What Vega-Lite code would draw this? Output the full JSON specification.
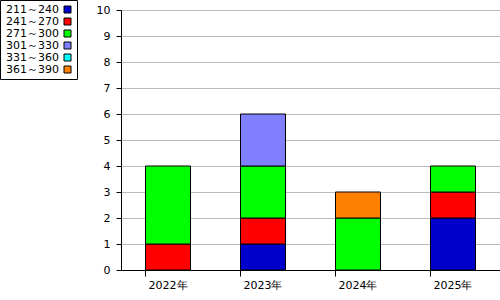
{
  "$schema": "https://vega.github.io/schema/vega-lite/v6.json",
  "width": 379,
  "height": 260,
  "autosize": {"type": "none"},
  "padding": {"left": 121, "top": 10, "right": 0, "bottom": 30},
  "background": "white",
  "config": {
    "font": "DejaVu Sans",
    "view": {"stroke": null},
    "axis": {"labelFont": "DejaVu Sans", "labelFontSize": 11, "labelColor": "#000", "domainColor": "#000", "tickColor": "#000"}
  },
  "data": {
    "values": [
      {"year": "2022年", "range": "241～270", "count": 1},
      {"year": "2022年", "range": "271～300", "count": 3},
      {"year": "2023年", "range": "211～240", "count": 1},
      {"year": "2023年", "range": "241～270", "count": 1},
      {"year": "2023年", "range": "271～300", "count": 2},
      {"year": "2023年", "range": "301～330", "count": 2},
      {"year": "2024年", "range": "271～300", "count": 2},
      {"year": "2024年", "range": "361～390", "count": 1},
      {"year": "2025年", "range": "211～240", "count": 2},
      {"year": "2025年", "range": "241～270", "count": 1},
      {"year": "2025年", "range": "271～300", "count": 1}
    ]
  },
  "mark": {"type": "bar", "stroke": "#000", "strokeWidth": 1},
  "encoding": {
    "x": {
      "field": "year", "type": "nominal", "title": null,
      "scale": {"paddingInner": 0.5263, "paddingOuter": 0.258},
      "axis": {"labelAngle": 0, "bandPosition": 0, "tickSize": 6, "labelPadding": 3, "grid": false, "domainWidth": 1}
    },
    "y": {
      "field": "count", "type": "quantitative", "aggregate": "sum", "title": null,
      "scale": {"domain": [0, 10], "nice": false},
      "axis": {"values": [0,1,2,3,4,5,6,7,8,9,10], "tickSize": 5, "labelPadding": 6, "gridColor": "#bbbbbb", "gridWidth": 1}
    },
    "color": {
      "field": "range", "type": "nominal", "title": null,
      "scale": {
        "domain": ["211～240", "241～270", "271～300", "301～330", "331～360", "361～390"],
        "range": ["#0000cc", "#ff0000", "#00ff00", "#8080ff", "#00ffff", "#ff8000"]
      },
      "legend": {
        "orient": "none", "legendX": -121, "legendY": -10,
        "symbolType": "square", "symbolSize": 49, "symbolStrokeColor": "#000", "symbolStrokeWidth": 1,
        "symbolOffset": 58, "labelAlign": "right", "labelOffset": -14,
        "labelFont": "DejaVu Sans", "labelFontSize": 11, "labelColor": "#000",
        "rowPadding": 0, "strokeColor": "#000", "padding": 4, "fillColor": "white"
      }
    },
    "order": {"field": "range"}
  }
}
